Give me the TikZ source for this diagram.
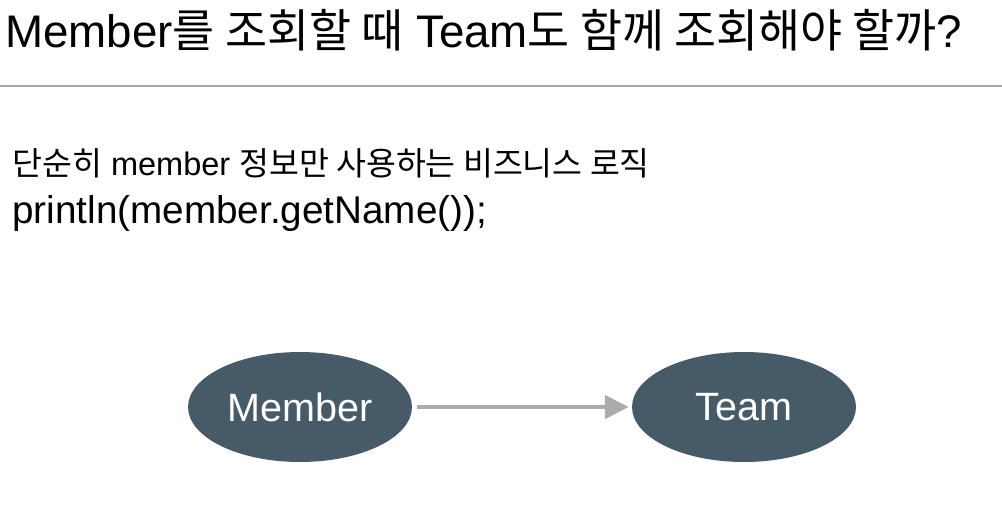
\documentclass[tikz,border=0pt]{standalone}
\usepackage{fontspec}
\setmainfont{Liberation Sans}
\newfontfamily\kr{Noto Sans CJK KR}
\usepackage{tikz}
\usetikzlibrary{arrows.meta,positioning,shapes.geometric}
\definecolor{slate}{HTML}{465A67}
\definecolor{rulegray}{HTML}{A8A8A8}
\definecolor{flowgray}{HTML}{ABABAB}

\begin{document}
\begin{tikzpicture}[x=0.02cm,y=-0.02cm,
  entity/.style={ellipse,fill=slate,text=white,minimum width=4.48cm,minimum height=2.2cm,
    inner sep=0pt,font=\fontsize{22.5}{26}\selectfont},
  flow/.style={flowgray,line width=2.8pt,-{Triangle[length=13.5pt,width=13pt]},
    shorten <=2.8pt,shorten >=1.7pt}]
  \useasboundingbox (0,0) rectangle (1002,510);
  \fill[white] (0,0) rectangle (1002,510);
  % title and rule
  \node[anchor=base west,inner sep=0pt,font=\fontsize{26}{30}\selectfont] (title) at (5,48)
    {Member{\kr 를 조회할 때} Team{\kr 도 함께 조회해야 할까}?};
  \draw[rulegray,line width=0.6pt] (0,86) -- (1002,86);
  % body text
  \node[anchor=base west,inner sep=0pt,font=\fontsize{18.5}{22}\selectfont] (usage) at (12,176)
    {{\kr 단순히} member {\kr 정보만 사용하는 비즈니스 로직}};
  \node[anchor=base west,inner sep=0pt,font=\fontsize{22}{26}\selectfont] (code) at (12,224)
    {println(member.getName());};
  % entities
  \node[entity] (member) at (300,407) {Member};
  \node[entity] (team) at (744,407) {Team};
  \draw[flow] (member) -- (team);
\end{tikzpicture}
\end{document}
